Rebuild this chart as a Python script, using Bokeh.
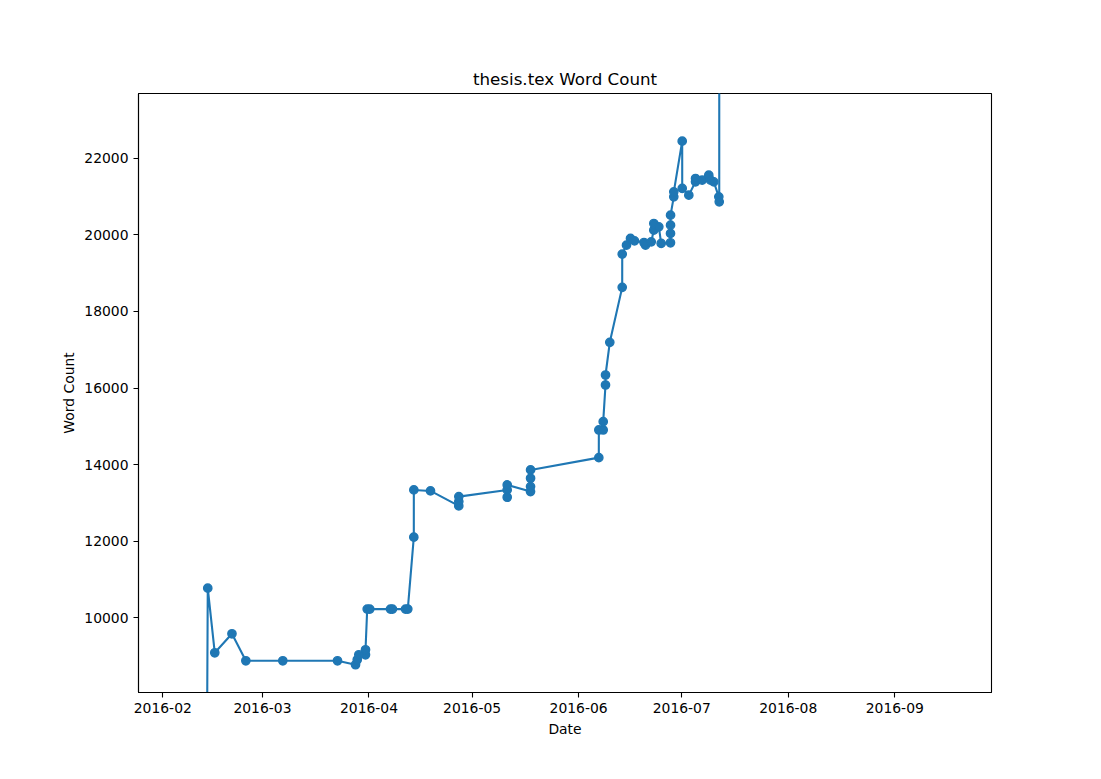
import pandas as pd
from bokeh.plotting import figure
from bokeh.models import Range1d, DatetimeTickFormatter, MonthsTicker, FixedTicker, ColumnDataSource
from bokeh.embed import file_html
from bokeh.resources import INLINE

# timestamps of each word count sample
dates = [
    "2016-02-13 12:00", "2016-02-14 02:00", "2016-02-16 03:00", "2016-02-21 03:00",
    "2016-02-25 04:00", "2016-03-06 22:00", "2016-03-22 20:00", "2016-03-28 02:00",
    "2016-03-28 14:00", "2016-03-29 01:00", "2016-03-30 23:30", "2016-03-30 23:45",
    "2016-03-31 11:30", "2016-04-01 05:30", "2016-04-07 06:00", "2016-04-07 20:00",
    "2016-04-11 15:00", "2016-04-12 07:00", "2016-04-14 01:00", "2016-04-14 01:10",
    "2016-04-18 21:30",
    "2016-04-27 03:00", "2016-04-27 03:10", "2016-04-27 03:20",
    "2016-05-11 05:00", "2016-05-11 05:10", "2016-05-11 05:20",
    "2016-05-18 00:00", "2016-05-18 00:10", "2016-05-18 00:20", "2016-05-18 00:30",
    "2016-06-06 21:00", "2016-06-06 21:10", "2016-06-08 03:30", "2016-06-08 03:40",
    "2016-06-08 19:40", "2016-06-08 19:50", "2016-06-10 01:40", "2016-06-13 16:20",
    "2016-06-13 16:30", "2016-06-14 22:20", "2016-06-16 02:10", "2016-06-17 06:15",
    "2016-06-20 00:30", "2016-06-20 11:00", "2016-06-22 03:00", "2016-06-22 21:00",
    "2016-06-22 21:10", "2016-06-24 08:00", "2016-06-25 00:30",
    "2016-06-27 17:30", "2016-06-27 17:40", "2016-06-27 17:50", "2016-06-27 18:00",
    "2016-06-28 16:30", "2016-06-28 16:40", "2016-07-01 03:20", "2016-07-01 03:30",
    "2016-07-03 01:30", "2016-07-05 00:15", "2016-07-05 00:25", "2016-07-06 23:00",
    "2016-07-08 21:00", "2016-07-09 09:00", "2016-07-10 08:00", "2016-07-11 19:00",
    "2016-07-11 22:00", "2016-07-11 23:00",
]
word_counts = [
    0, 10775, 9087, 9583,
    8878, 8878, 8878, 8774,
    8904, 9035, 9035, 9165,
    10227, 10227, 10227, 10227,
    10227, 10227, 12105, 13339,
    13313,
    12922, 13034, 13165,
    13339, 13149, 13470,
    13296, 13426, 13645, 13861,
    14182, 14905, 14905, 15122,
    16079, 16340, 17193, 18628,
    19497, 19731, 19906, 19843,
    19800, 19731, 19817, 20122,
    20296, 20209, 19775,
    19792, 20036, 20253, 20514,
    20991, 21122, 22445, 21211,
    21036, 21384, 21471, 21427,
    21558, 21427, 21384, 20991,
    20861, 50000,
]

y_ticks = [10000, 12000, 14000, 16000, 18000, 20000, 22000]

src = ColumnDataSource(dict(x=pd.to_datetime(dates), y=word_counts))

BLUE = "#1f77b4"
FONT = "DejaVu Sans"

p = figure(width=1101, height=779, output_backend="svg", toolbar_location=None,
           x_axis_type="datetime",
           x_range=Range1d(pd.Timestamp("2016-01-24 22:20"), pd.Timestamp("2016-09-29 03:20")),
           y_range=Range1d(8050, 23690),
           min_border_left=138, min_border_right=110, min_border_top=93, min_border_bottom=87,
           title="thesis.tex Word Count")

p.line("x", "y", source=src, line_color=BLUE, line_width=2.1)
p.scatter("x", "y", source=src, size=8.3, fill_color=BLUE, line_color=BLUE, line_width=1.4)

p.title.align = "center"
p.title.text_font = FONT
p.title.text_font_style = "normal"
p.title.text_font_size = "16.7px"
p.title.text_color = "black"

p.xgrid.visible = False
p.ygrid.visible = False
p.outline_line_color = "black"
p.outline_line_width = 1.1
p.background_fill_color = "white"
p.border_fill_color = "white"

p.xaxis.ticker = MonthsTicker(months=list(range(1, 13)))
p.xaxis.formatter = DatetimeTickFormatter(months="%Y-%m", days="%Y-%m")
p.yaxis.ticker = FixedTicker(ticks=y_ticks)
p.xaxis.axis_label = "Date"
p.yaxis.axis_label = "Word Count"

for ax in (p.xaxis[0], p.yaxis[0]):
    ax.axis_line_color = "black"
    ax.axis_line_width = 1.1
    ax.major_tick_line_color = "black"
    ax.major_tick_line_width = 1.1
    ax.major_tick_out = 5
    ax.major_tick_in = 0
    ax.minor_tick_out = 0
    ax.minor_tick_in = 0
    ax.major_label_text_font = FONT
    ax.major_label_text_font_size = "13.9px"
    ax.major_label_text_color = "black"
    ax.axis_label_text_font = FONT
    ax.axis_label_text_font_size = "13.9px"
    ax.axis_label_text_font_style = "normal"
    ax.axis_label_text_color = "black"
    ax.major_label_standoff = 5

p.xaxis[0].axis_label_standoff = 5
p.yaxis[0].axis_label_standoff = 4
p.yaxis.major_label_orientation = "horizontal"

open("out.html", "w").write(file_html(p, INLINE))
